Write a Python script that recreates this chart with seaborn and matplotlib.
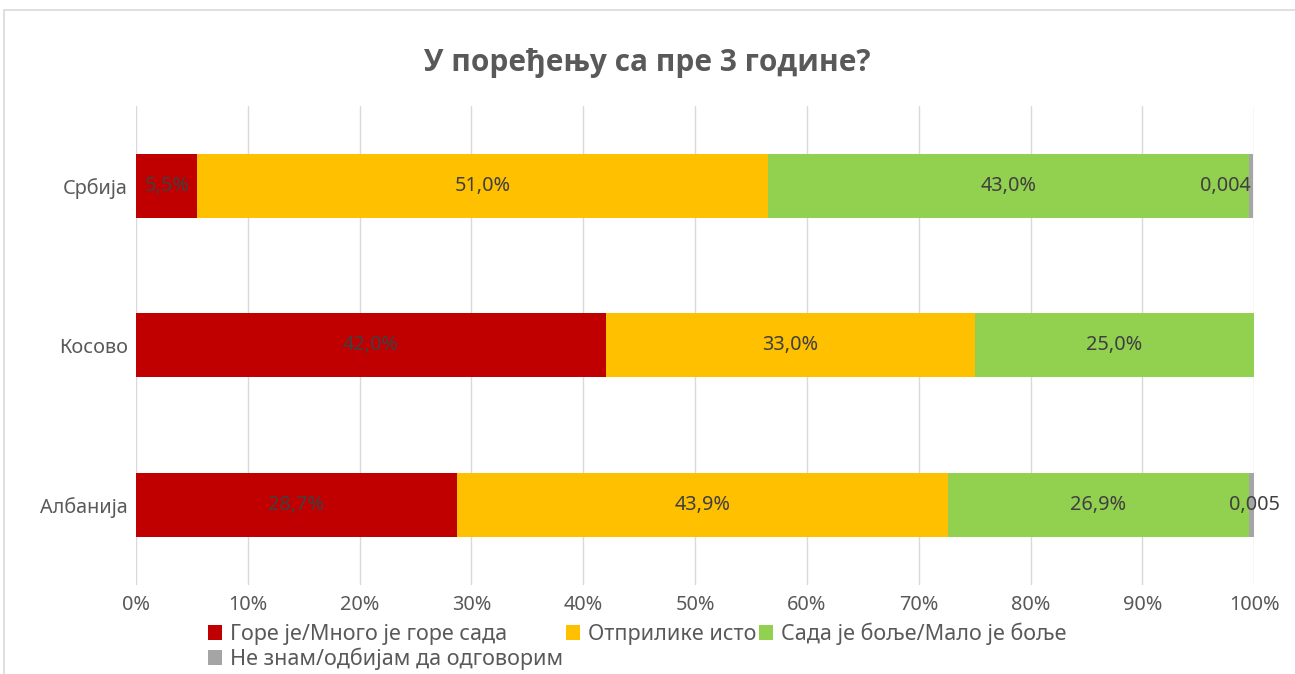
import numpy as np
import pandas as pd
import seaborn as sns
import matplotlib
matplotlib.use("Agg")
import matplotlib.pyplot as plt
from matplotlib.patches import Patch, Rectangle

categories = ["Србија", "Косово", "Албанија"]
series_names = ["Горе је/Много је горе сада", "Отприлике исто",
                "Сада је боље/Мало је боље", "Не знам/одбијам да одговорим"]
worse = [5.5, 42.0, 28.7]
same = [51.0, 33.0, 43.9]
better = [43.0, 25.0, 26.9]
dontknow = [0.4, 0.0, 0.5]
label_worse = ["5,5%", "42,0%", "28,7%"]
label_same = ["51,0%", "33,0%", "43,9%"]
label_better = ["43,0%", "25,0%", "26,9%"]
label_dontknow = ["0,004", "", "0,005"]
xticks = [0, 10, 20, 30, 40, 50, 60, 70, 80, 90, 100]
xtick_labels = [f"{v}%" for v in xticks]
title = "У поређењу са пре 3 године?"

colors = ["#C00000", "#FFC000", "#92D050", "#A5A5A5"]
text_gray = "#595959"
label_gray = "#404040"
FS = 14.3
LFS = 15.5

sns.set_theme(style="white")
plt.rcParams["font.family"] = ["Noto Sans", "DejaVu Sans"]

series = [worse, same, better, dontknow]
labels = [label_worse, label_same, label_better, label_dontknow]
cum = np.cumsum(np.array(series), axis=0)

fig = plt.figure(figsize=(12.95, 6.74), dpi=100)
ax = fig.add_axes([0.105, 0.132, 0.8635, 0.711])

# outer chart border
fig.patches.append(Rectangle((0.003, -0.05), 1.2, 0.985 + 0.05, transform=fig.transFigure,
                             fill=False, edgecolor="#D9D9D9", linewidth=1.2, zorder=0))

for i in range(3, -1, -1):
    df = pd.DataFrame({"cat": categories, "val": cum[i]})
    sns.barplot(data=df, x="val", y="cat", orient="h", color=colors[i],
                width=0.4, saturation=1, ax=ax, zorder=3, linewidth=0)

for i in range(3):
    starts = cum[i] - np.array(series[i])
    for j in range(len(categories)):
        if series[i][j] > 0:
            ax.text(starts[j] + series[i][j] / 2, j, labels[i][j], ha="center", va="center",
                    fontsize=FS, color=label_gray, zorder=5)
# small "don't know" labels
for j in range(len(categories)):
    if dontknow[j] > 0:
        end = cum[3][j]
        if j == 0:
            ax.annotate(labels[3][j], (end, j), xytext=(-2, 0), textcoords="offset points",
                        ha="right", va="center", fontsize=FS, color=label_gray, zorder=5)
        else:
            ax.annotate(labels[3][j], (end, j), xytext=(0, 0), textcoords="offset points",
                        ha="center", va="center", fontsize=FS, color=label_gray, zorder=5)

ax.set_xlim(0, 100)
ax.set_ylim(2.5, -0.5)
ax.set_xticks(xticks)
ax.set_xticklabels(xtick_labels)
ax.set_xlabel("")
ax.set_ylabel("")
ax.grid(axis="x", color="#D9D9D9", linewidth=1, zorder=0)
ax.grid(axis="y", visible=False)
for s in ax.spines.values():
    s.set_visible(False)
ax.tick_params(axis="both", length=0, labelsize=FS, colors=text_gray)
ax.tick_params(axis="x", pad=7)
ax.tick_params(axis="y", pad=6)

fig.text(0.5, 0.907, title, ha="center", va="center", fontsize=21.5,
         fontweight="bold", color=text_gray, family=["Open Sans", "DejaVu Sans"])

handles = [Patch(facecolor=c, edgecolor="none") for c in colors]
order = [0, 3, 1, 2]
leg = fig.legend([handles[k] for k in order], [series_names[k] for k in order],
                 ncol=3, loc="center", bbox_to_anchor=(0.492, 0.041), frameon=False,
                 fontsize=LFS, handlelength=0.65, handleheight=0.65, handletextpad=0.35,
                 columnspacing=0.15, labelspacing=0.12, labelcolor=text_gray,
                 borderpad=0.1)

fig.savefig("out.png", dpi=100)
